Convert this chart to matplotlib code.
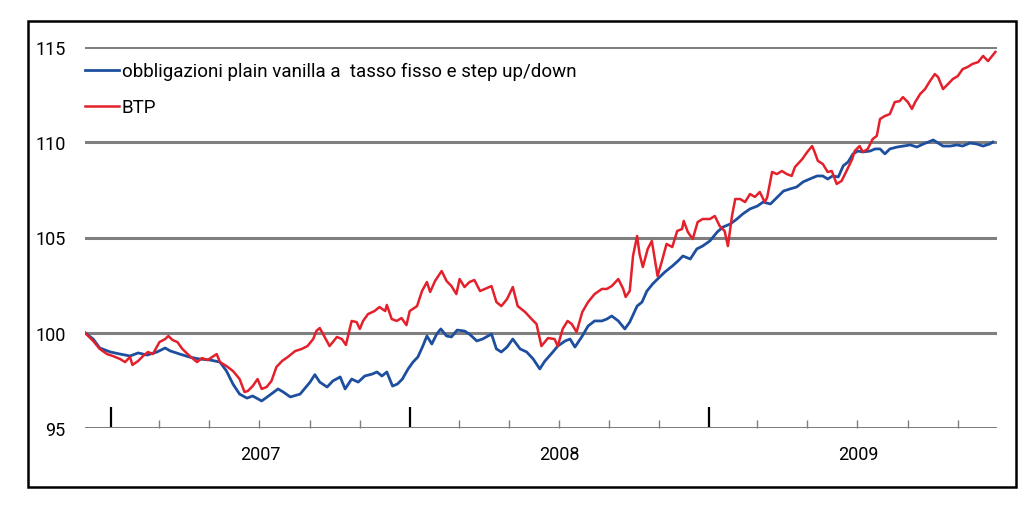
import numpy as np
import pandas as pd
import matplotlib
matplotlib.use("Agg")
import matplotlib.pyplot as plt
import matplotlib.dates as mdates
from matplotlib.patches import Rectangle
from matplotlib.transforms import blended_transform_factory

plt.rcParams['font.family'] = ['Roboto', 'DejaVu Sans']

# obbligazioni plain vanilla a tasso fisso e step up/down
blue_dates = [
    "2006-11-30", "2006-12-10", "2006-12-18", "2006-12-31", "2007-01-12", "2007-01-24",
    "2007-02-03", "2007-02-14", "2007-02-26", "2007-03-08", "2007-03-14", "2007-03-26",
    "2007-04-07", "2007-04-19", "2007-05-02", "2007-05-14", "2007-05-22", "2007-05-30",
    "2007-06-07", "2007-06-16", "2007-06-23", "2007-07-04", "2007-07-14", "2007-07-24",
    "2007-07-30", "2007-08-08", "2007-08-20", "2007-09-01", "2007-09-07", "2007-09-13",
    "2007-09-22", "2007-09-29", "2007-10-08", "2007-10-14", "2007-10-22", "2007-10-30",
    "2007-11-07", "2007-11-16", "2007-11-22", "2007-11-28", "2007-12-04", "2007-12-11",
    "2007-12-17", "2007-12-23", "2007-12-30", "2008-01-05", "2008-01-11", "2008-01-17",
    "2008-01-22", "2008-01-28", "2008-02-03", "2008-02-08", "2008-02-15", "2008-02-21",
    "2008-02-28", "2008-03-08", "2008-03-14", "2008-03-23", "2008-03-30", "2008-04-10",
    "2008-04-16", "2008-04-22", "2008-04-29", "2008-05-06", "2008-05-15", "2008-05-23",
    "2008-05-31", "2008-06-08", "2008-06-14", "2008-06-24", "2008-06-30", "2008-07-09",
    "2008-07-15", "2008-07-21", "2008-07-30", "2008-08-06", "2008-08-14", "2008-08-23",
    "2008-08-29", "2008-09-04", "2008-09-12", "2008-09-20", "2008-09-26", "2008-10-05",
    "2008-10-11", "2008-10-17", "2008-10-24", "2008-10-30", "2008-11-08", "2008-11-17",
    "2008-11-24", "2008-11-30", "2008-12-09", "2008-12-17", "2008-12-24", "2009-01-02",
    "2009-01-11", "2009-01-18", "2009-01-27", "2009-02-04", "2009-02-11", "2009-02-20",
    "2009-03-01", "2009-03-08", "2009-03-17", "2009-03-27", "2009-04-02", "2009-04-10",
    "2009-04-18", "2009-04-26", "2009-05-04", "2009-05-13", "2009-05-20", "2009-05-26",
    "2009-06-01", "2009-06-08", "2009-06-14", "2009-06-20", "2009-06-26", "2009-07-02",
    "2009-07-08", "2009-07-17", "2009-07-23", "2009-07-29", "2009-08-04", "2009-08-10",
    "2009-08-19", "2009-08-26", "2009-09-04", "2009-09-12", "2009-09-20", "2009-09-26",
    "2009-10-02", "2009-10-08", "2009-10-14", "2009-10-23", "2009-10-31", "2009-11-07",
    "2009-11-16", "2009-11-24", "2009-12-02", "2009-12-10", "2009-12-14",
]
blue_values = [
    100.0, 99.67, 99.2, 98.99, 98.88, 98.78,
    98.94, 98.83, 98.99, 99.2, 99.05, 98.88,
    98.72, 98.62, 98.57, 98.46, 97.99, 97.3,
    96.78, 96.57, 96.68, 96.42, 96.73, 97.05,
    96.9, 96.63, 96.78, 97.4, 97.8, 97.41,
    97.15, 97.47, 97.68, 97.05, 97.57, 97.41,
    97.73, 97.83, 97.94, 97.73, 97.94, 97.2,
    97.31, 97.57, 98.1, 98.46, 98.73, 99.3,
    99.83, 99.41, 99.93, 100.2, 99.83, 99.78,
    100.14, 100.09, 99.93, 99.57, 99.67, 99.93,
    99.15, 98.99, 99.25, 99.67, 99.15, 98.99,
    98.62, 98.1, 98.5, 98.99, 99.3, 99.57,
    99.67, 99.25, 99.83, 100.35, 100.62, 100.62,
    100.72, 100.88, 100.62, 100.2, 100.56, 101.4,
    101.61, 102.19, 102.56, 102.82, 103.19, 103.5,
    103.77, 104.03, 103.87, 104.4, 104.55, 104.82,
    105.29, 105.55, 105.71, 105.97, 106.23, 106.5,
    106.65, 106.86, 106.76, 107.18, 107.44, 107.55,
    107.65, 107.92, 108.07, 108.23, 108.23, 108.07,
    108.23, 108.18, 108.76, 108.97, 109.39, 109.54,
    109.49, 109.54, 109.65, 109.65, 109.39, 109.65,
    109.75, 109.8, 109.86, 109.75, 109.91, 110.01,
    110.12, 109.96, 109.8, 109.8, 109.86, 109.8,
    109.96, 109.91, 109.8, 109.91, 110.01,
]

# BTP
red_dates = [
    "2006-11-30", "2006-12-10", "2006-12-18", "2006-12-27", "2007-01-03", "2007-01-12",
    "2007-01-18", "2007-01-24", "2007-01-27", "2007-02-03", "2007-02-09", "2007-02-15",
    "2007-02-21", "2007-03-01", "2007-03-08", "2007-03-12", "2007-03-17", "2007-03-23",
    "2007-03-29", "2007-04-07", "2007-04-16", "2007-04-22", "2007-04-29", "2007-05-10",
    "2007-05-14", "2007-05-22", "2007-05-30", "2007-06-07", "2007-06-13", "2007-06-17",
    "2007-06-23", "2007-06-29", "2007-07-04", "2007-07-10", "2007-07-16", "2007-07-22",
    "2007-07-29", "2007-08-05", "2007-08-14", "2007-08-22", "2007-08-29", "2007-09-05",
    "2007-09-09", "2007-09-13", "2007-09-19", "2007-09-25", "2007-10-04", "2007-10-10",
    "2007-10-15", "2007-10-22", "2007-10-28", "2007-11-01", "2007-11-05", "2007-11-11",
    "2007-11-19", "2007-11-25", "2007-12-02", "2007-12-04", "2007-12-10", "2007-12-16",
    "2007-12-22", "2007-12-28", "2008-01-01", "2008-01-10", "2008-01-16", "2008-01-22",
    "2008-01-26", "2008-02-01", "2008-02-09", "2008-02-15", "2008-02-21", "2008-02-27",
    "2008-03-02", "2008-03-08", "2008-03-14", "2008-03-20", "2008-03-27", "2008-04-02",
    "2008-04-10", "2008-04-16", "2008-04-22", "2008-04-29", "2008-05-06", "2008-05-12",
    "2008-05-21", "2008-05-29", "2008-06-04", "2008-06-10", "2008-06-18", "2008-06-26",
    "2008-06-30", "2008-07-06", "2008-07-12", "2008-07-17", "2008-07-23", "2008-07-30",
    "2008-08-06", "2008-08-14", "2008-08-23", "2008-08-29", "2008-09-04", "2008-09-12",
    "2008-09-18", "2008-09-21", "2008-09-26", "2008-09-30", "2008-10-05", "2008-10-08",
    "2008-10-12", "2008-10-18", "2008-10-23", "2008-10-26", "2008-10-30", "2008-11-04",
    "2008-11-10", "2008-11-17", "2008-11-23", "2008-11-29", "2008-12-01", "2008-12-06",
    "2008-12-12", "2008-12-18", "2008-12-24", "2009-01-02", "2009-01-08", "2009-01-14",
    "2009-01-20", "2009-01-24", "2009-01-29", "2009-02-02", "2009-02-08", "2009-02-14",
    "2009-02-20", "2009-02-26", "2009-03-04", "2009-03-10", "2009-03-13", "2009-03-19",
    "2009-03-25", "2009-03-31", "2009-04-06", "2009-04-12", "2009-04-16", "2009-04-25",
    "2009-05-01", "2009-05-07", "2009-05-10", "2009-05-14", "2009-05-20", "2009-05-26",
    "2009-05-31", "2009-06-06", "2009-06-12", "2009-06-18", "2009-06-25", "2009-06-28",
    "2009-07-04", "2009-07-08", "2009-07-14", "2009-07-20", "2009-07-25", "2009-07-29",
    "2009-08-04", "2009-08-10", "2009-08-16", "2009-08-22", "2009-08-26", "2009-09-01",
    "2009-09-06", "2009-09-10", "2009-09-16", "2009-09-22", "2009-09-28", "2009-10-04",
    "2009-10-08", "2009-10-14", "2009-10-20", "2009-10-26", "2009-11-01", "2009-11-07",
    "2009-11-13", "2009-11-19", "2009-11-26", "2009-12-02", "2009-12-08", "2009-12-13",
    "2009-12-17",
]
red_values = [
    100.0, 99.57, 99.15, 98.88, 98.78, 98.62,
    98.46, 98.73, 98.31, 98.52, 98.78, 98.99,
    98.88, 99.51, 99.67, 99.83, 99.62, 99.51,
    99.15, 98.78, 98.46, 98.67, 98.57, 98.88,
    98.46, 98.25, 97.99, 97.57, 96.89, 96.94,
    97.2, 97.57, 97.05, 97.15, 97.47, 98.2,
    98.52, 98.73, 99.04, 99.15, 99.3, 99.67,
    100.1, 100.25, 99.78, 99.3, 99.78, 99.67,
    99.36, 100.62, 100.56, 100.2, 100.62, 100.98,
    101.14, 101.35, 101.14, 101.46, 100.72, 100.62,
    100.77, 100.4, 101.14, 101.4, 102.19, 102.66,
    102.14, 102.72, 103.24, 102.72, 102.45, 102.03,
    102.82, 102.4, 102.66, 102.77, 102.19, 102.3,
    102.45, 101.61, 101.4, 101.77, 102.4, 101.4,
    101.09, 100.72, 100.46, 99.3, 99.72, 99.67,
    99.3, 100.2, 100.62, 100.46, 100.04, 101.09,
    101.61, 102.03, 102.3, 102.3, 102.45, 102.82,
    102.3, 101.88, 102.19, 104.03, 105.08, 104.13,
    103.45, 104.4, 104.82, 104.03, 102.98, 103.71,
    104.66, 104.5, 105.34, 105.45, 105.87, 105.29,
    104.92, 105.81, 105.97, 105.97, 106.13, 105.6,
    105.34, 104.55, 106.13, 107.02, 107.02, 106.86,
    107.28, 107.13, 107.39, 106.86, 107.1, 108.44,
    108.33, 108.49, 108.33, 108.23, 108.7, 109.12,
    109.49, 109.8, 109.49, 109.02, 108.86, 108.44,
    108.49, 107.81, 107.97, 108.49, 109.12, 109.54,
    109.8, 109.49, 109.65, 110.17, 110.33, 111.22,
    111.38, 111.48, 112.11, 112.16, 112.37, 112.11,
    111.75, 112.11, 112.53, 112.79, 113.21, 113.58,
    113.42, 112.79, 113.05, 113.32, 113.47, 113.84,
    113.95, 114.11, 114.21, 114.53, 114.26, 114.53,
    114.74,
]

labels = ["obbligazioni plain vanilla a  tasso fisso e step up/down", "BTP"]
years = ["2007", "2008", "2009"]
y_ticks = [95, 100, 105, 110, 115]

blue = pd.Series(blue_values, index=pd.to_datetime(blue_dates))
red = pd.Series(red_values, index=pd.to_datetime(red_dates))

fig = plt.figure(figsize=(10.3, 5.1), dpi=100)
ax = fig.add_axes([85 / 1030, 81 / 510, 912 / 1030, 381 / 510])

ax.plot(blue.index, blue.values, color="#1d4f9e", lw=2.0, label=labels[0], zorder=3)
ax.plot(red.index, red.values, color="#e3202b", lw=1.8, label=labels[1], zorder=4)

ax.set_ylim(95, 115)
ax.set_xlim(pd.Timestamp("2006-11-30"), pd.Timestamp("2009-12-19"))
ax.set_yticks(y_ticks)
ax.set_yticklabels([str(v) for v in y_ticks])
ax.yaxis.grid(True, color="#7f7f7f", lw=2.2)
ax.set_axisbelow(True)
for s in ax.spines.values():
    s.set_visible(False)

ax.tick_params(axis="y", length=0, pad=14, labelsize=13)
ax.xaxis.set_major_locator(mdates.YearLocator())
ax.xaxis.set_minor_locator(mdates.MonthLocator(bymonth=[3, 5, 7, 9, 11]))
ax.xaxis.set_major_formatter(plt.NullFormatter())
ax.tick_params(axis="x", which="major", direction="in", length=15, width=1.6, color="black")
ax.tick_params(axis="x", which="minor", direction="in", length=6, width=1.0, color="#7f7f7f")

trans = blended_transform_factory(ax.transData, ax.transAxes)
for yr in years:
    ax.text(pd.Timestamp(yr + "-07-02"), -0.068, yr, transform=trans,
            ha="center", va="center", fontsize=13)

ax.legend(loc="upper left", bbox_to_anchor=(0.0, 0.96), frameon=False,
          fontsize=13.5, handlelength=1.8, handletextpad=0.15,
          labelspacing=0.95, borderpad=0, borderaxespad=0)

fig.patches.append(Rectangle((28 / 1030, 22 / 510), 988 / 1030, 466 / 510,
                             transform=fig.transFigure, fill=False,
                             edgecolor="black", lw=1.8))

fig.savefig("out.png", dpi=100)
